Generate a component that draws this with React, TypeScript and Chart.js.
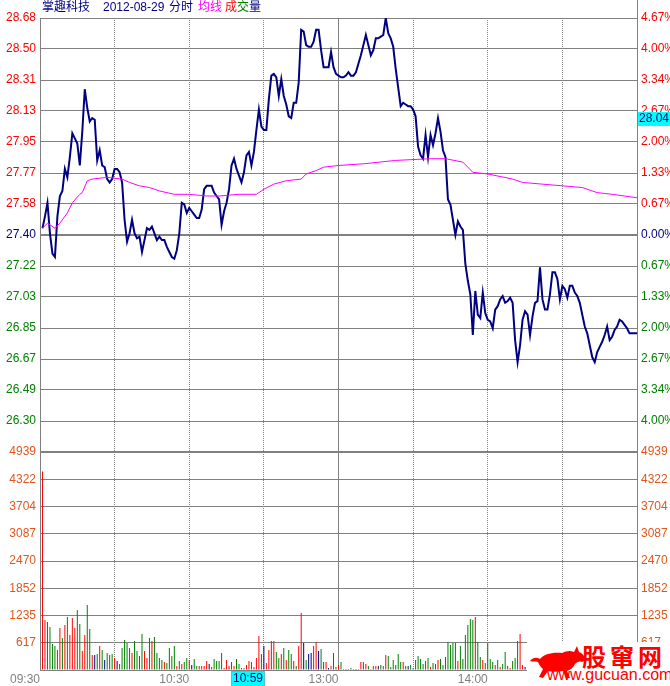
import React, { useEffect, useRef } from 'react';
import { Chart, registerables } from 'chart.js';

Chart.register(...registerables);

// ---------- data ----------
const stockName = '掌趣科技';
const tradeDate = '2012-08-29';
const titleParts = ['分时', '均线', '成', '交', '量'];

const prevClose = 27.4;
const priceMax = 28.68;
const priceMin = 26.12;
const volumeMax = 4939;

const priceLeftLabels = ['28.68', '28.50', '28.31', '28.13', '27.95', '27.77', '27.58', '27.40', '27.22', '27.03', '26.85', '26.67', '26.49', '26.30', ''];
const priceRightLabels = ['4.67%', '4.00%', '3.34%', '2.67%', '2.00%', '1.33%', '0.67%', '0.00%', '0.67%', '1.33%', '2.00%', '2.67%', '3.34%', '4.00%', ''];
const volumeLabels = ['4939', '4322', '3704', '3087', '2470', '1852', '1235', '617', ''];

const timeTicks = [0, 60, 120, 180];
const timeLabels = ['09:30', '10:30', '13:00', '14:00'];
const halfHourTicks = [30, 60, 90, 150, 180, 210];
const middayTick = 120;
const sessionMinutes = 240;

// price per minute (minute 1 .. 240)
const priceValues = [
  27.44, 27.51, 27.59, 27.41, 27.29, 27.27, 27.51, 27.63, 27.66, 27.79,
  27.74, 27.86, 28.00, 27.97, 27.94, 27.81, 28.01, 28.26, 28.15, 28.07,
  28.09, 28.08, 27.84, 27.90, 27.81, 27.80, 27.73, 27.71, 27.73, 27.79,
  27.79, 27.77, 27.71, 27.49, 27.36, 27.41, 27.49, 27.41, 27.38, 27.39,
  27.30, 27.37, 27.44, 27.43, 27.45, 27.41, 27.37, 27.39, 27.37, 27.37,
  27.33, 27.30, 27.27, 27.26, 27.31, 27.41, 27.59, 27.58, 27.53, 27.56,
  27.54, 27.52, 27.50, 27.50, 27.55, 27.67, 27.69, 27.69, 27.69, 27.65,
  27.63, 27.61, 27.46, 27.54, 27.59, 27.67, 27.81, 27.85, 27.79, 27.75,
  27.71, 27.77, 27.87, 27.89, 27.81, 27.89, 28.02, 28.14, 28.04, 28.02,
  28.02, 28.20, 28.34, 28.35, 28.33, 28.22, 28.32, 28.22, 28.17, 28.10,
  28.09, 28.18, 28.18, 28.30, 28.61, 28.60, 28.52, 28.51, 28.51, 28.54,
  28.61, 28.61, 28.49, 28.39, 28.39, 28.39, 28.48, 28.39, 28.35, 28.34,
  28.33, 28.33, 28.34, 28.36, 28.34, 28.34, 28.36, 28.41, 28.46, 28.52,
  28.58, 28.52, 28.46, 28.49, 28.56, 28.56, 28.57, 28.58, 28.68, 28.59,
  28.56, 28.51, 28.38, 28.27, 28.16, 28.18, 28.17, 28.16, 28.16, 28.14,
  28.10, 27.92, 27.87, 27.85, 27.99, 27.86, 27.99, 27.93, 28.00, 28.09,
  28.01, 27.90, 27.86, 27.61, 27.58, 27.49, 27.40, 27.48, 27.45, 27.43,
  27.23, 27.13, 27.05, 26.81, 27.07, 26.93, 26.91, 27.06, 26.94, 26.90,
  26.89, 26.85, 26.96, 26.98, 27.02, 27.04, 27.00, 27.01, 27.03, 27.00,
  26.78, 26.65, 26.75, 26.90, 26.95, 26.93, 26.81, 26.92, 27.00, 27.01,
  27.21, 27.02, 26.96, 26.96, 27.05, 27.18, 27.18, 27.14, 27.02, 27.10,
  27.08, 27.03, 27.10, 27.10, 27.06, 27.04, 27.00, 26.93, 26.86, 26.82,
  26.75, 26.68, 26.65, 26.71, 26.74, 26.77, 26.81, 26.86, 26.78, 26.80,
  26.84, 26.86, 26.90, 26.89, 26.87, 26.85, 26.82, 26.82, 26.82, 26.82,
];

// average price line, read at these minutes
const avgMinutes = [1, 3, 4, 6, 8, 11, 13, 16, 17, 19, 21, 27, 33, 36, 40, 44, 48, 54, 60, 67, 72, 80, 87, 90, 94, 99, 105, 107, 111, 114, 120, 130, 143, 157, 163, 170, 174, 180, 190, 194, 202, 210, 218, 224, 230, 240];
const avgValues = [27.44, 27.47, 27.46, 27.44, 27.47, 27.53, 27.59, 27.64, 27.65, 27.72, 27.73, 27.74, 27.73, 27.71, 27.69, 27.68, 27.66, 27.64, 27.64, 27.63, 27.63, 27.64, 27.64, 27.67, 27.70, 27.72, 27.73, 27.76, 27.78, 27.80, 27.81, 27.82, 27.84, 27.85, 27.85, 27.83, 27.77, 27.76, 27.73, 27.71, 27.70, 27.69, 27.68, 27.65, 27.64, 27.62];

// volume per minute (minute 1 .. 196; later bars hidden by the watermark)
const volumeValues = [
  4500, 1133, 1088, 974, 589, 544, 453, 951, 725, 1020,
  1200, 793, 1178, 951, 1360, 1042, 430, 793, 1473, 929,
  340, 340, 362, 544, 453, 227, 385, 340, 362, 272,
  204, 136, 498, 680, 612, 498, 385, 657, 430, 317,
  815, 430, 272, 725, 657, 747, 385, 272, 227, 181,
  158, 498, 317, 544, 91, 204, 136, 181, 272, 227,
  113, 249, 91, 91, 91, 91, 204, 136, 68, 249,
  204, 204, 385, 45, 227, 91, 181, 91, 249, 136,
  45, 45, 113, 204, 181, 68, 272, 770, 362, 544,
  158, 453, 657, 657, 408, 272, 362, 498, 227, 453,
  362, 204, 91, 544, 1291, 612, 227, 362, 385, 544,
  634, 430, 476, 181, 181, 45, 91, 385, 68, 113,
  181, 23, 23, 23, 45, 23, 23, 23, 181, 181,
  136, 91, 23, 91, 91, 91, 113, 91, 340, 317,
  68, 227, 113, 362, 181, 181, 91, 91, 113, 45,
  227, 317, 249, 136, 204, 272, 68, 159, 136, 227,
  249, 113, 295, 634, 566, 612, 612, 204, 544, 249,
  793, 1020, 1155, 1133, 1201, 634, 295, 227, 159, 612,
  249, 181, 113, 227, 68, 136, 408, 91, 45, 204,
  272, 657, 816, 113, 68, 227,
];
// r = up, g = down, b = unchanged
const volumeDirections = [
  'rrrgggrrgr', 'grrrggrrgg', 'rbgrgbgggr', 'bggggrrggr', 'grrgrggggr',
  'ggggrgrggr', 'bggrrrrbrg', 'gggrrrrrgg', 'rgrrgrrrgb', 'rrrrggrgrg',
  'grgrrbgbbr', 'rbggrbrggr', 'grbrgrbrrr', 'rggrrbgrrg', 'gggggrgbgg',
  'ggggrgrgrr', 'gggggggrgg', 'ggggrggrgg', 'ggrgrggrrg', 'ggrrbg',
].join('');

const cursorMinute = 89;
const cursorTime = '10:59';
const cursorPrice = 28.04;

// ---------- styles ----------
const GRAY = '#808080';
const RED = '#ff0000';
const GREEN = '#008000';
const NAVY = '#000080';
const MAGENTA = '#ff00ff';
const ORANGE = '#e0561c';
const CYAN = '#00ffff';
const AXIS_FONT = { family: "'Liberation Sans', Arial, sans-serif", size: 12 };
const TEXT_FONT = "'Liberation Sans', 'Noto Sans CJK SC', sans-serif";

const dirColor: Record<string, string> = { r: RED, g: GREEN, b: NAVY };
const priceTickColor = (i: number) => (i < 7 ? RED : i === 7 ? NAVY : GREEN);

const W = 670;
const H = 686;

const priceCursorPlugin = {
  id: 'priceCursor',
  afterDraw(chart: any) {
    const { ctx, chartArea } = chart;
    const y = chart.scales.y.getPixelForValue(cursorPrice);
    ctx.save();
    ctx.strokeStyle = GRAY;
    ctx.lineWidth = 1;
    ctx.beginPath();
    ctx.moveTo(Math.round(chartArea.right) + 0.5, 0);
    ctx.lineTo(Math.round(chartArea.right) + 0.5, chartArea.top);
    ctx.stroke();
    const bx = Math.round(chartArea.right) + 1;
    ctx.fillStyle = CYAN;
    ctx.fillRect(bx, Math.round(y) - 15, W - bx, 14);
    ctx.fillStyle = NAVY;
    ctx.font = "12px 'Liberation Sans', Arial, sans-serif";
    ctx.textBaseline = 'middle';
    ctx.textAlign = 'left';
    ctx.fillText(cursorPrice.toFixed(2), bx + 1, Math.round(y) - 8);
    ctx.restore();
  },
};

const timeCursorPlugin = {
  id: 'timeCursor',
  afterDraw(chart: any) {
    const { ctx, chartArea } = chart;
    const x = chart.scales.x.getPixelForValue(cursorMinute);
    const left = Math.round(x) - 30;
    const top = Math.round(chartArea.bottom) + 1;
    ctx.save();
    ctx.fillStyle = CYAN;
    ctx.fillRect(left, top, 34, H - top);
    ctx.strokeStyle = '#6fb8c0';
    ctx.lineWidth = 1;
    ctx.strokeRect(left + 0.5, top + 0.5, 33, H - top);
    ctx.fillStyle = NAVY;
    ctx.font = "12px 'Liberation Sans', Arial, sans-serif";
    ctx.textAlign = 'center';
    ctx.textBaseline = 'middle';
    ctx.fillText(cursorTime, left + 17, top + 8);
    ctx.restore();
  },
};

function xGridAxes(withLabels: boolean) {
  return {
    x: {
      type: 'linear',
      position: 'bottom',
      offset: false,
      min: 0,
      max: sessionMinutes,
      afterBuildTicks: (s: any) => {
        s.ticks = (withLabels ? timeTicks : [middayTick]).map((v) => ({ value: v }));
      },
      afterFit: (s: any) => {
        s.height = withLabels ? 16 : 0;
      },
      ticks: {
        display: withLabels,
        autoSkip: false,
        maxRotation: 0,
        align: 'end',
        padding: 2,
        color: GRAY,
        font: AXIS_FONT,
        callback: (_v: any, i: number) => timeLabels[i],
      },
      grid: {
        offset: false,
        drawTicks: false,
        lineWidth: 1,
        color: (c: any) => (c.tick && c.tick.value === middayTick ? GRAY : 'rgba(0,0,0,0)'),
      },
      border: { display: false },
    },
    x2: {
      type: 'linear',
      position: 'top',
      offset: false,
      min: 0,
      max: sessionMinutes,
      afterBuildTicks: (s: any) => {
        s.ticks = halfHourTicks.map((v) => ({ value: v }));
      },
      afterFit: (s: any) => {
        s.height = 0;
      },
      ticks: { display: false },
      grid: { offset: false, drawTicks: false, color: GRAY, lineWidth: 1 },
      border: { display: false, dash: [1, 1] },
    },
  };
}

export default function App() {
  const priceRef = useRef<HTMLCanvasElement | null>(null);
  const volRef = useRef<HTMLCanvasElement | null>(null);

  useEffect(() => {
    const step = (priceMax - priceMin) / (priceLeftLabels.length - 1);
    const priceChart = new Chart(priceRef.current as HTMLCanvasElement, {
      type: 'line',
      data: {
        datasets: [
          {
            label: '均线',
            data: avgMinutes.map((m, i) => ({ x: m, y: avgValues[i] })),
            borderColor: MAGENTA,
            borderWidth: 1,
            pointRadius: 0,
            tension: 0,
            xAxisID: 'x',
            yAxisID: 'y',
          },
          {
            label: '价格',
            data: priceValues.map((v, i) => ({ x: i + 1, y: v })),
            borderColor: NAVY,
            borderWidth: 2,
            pointRadius: 0,
            tension: 0,
            xAxisID: 'x',
            yAxisID: 'y',
          },
        ],
      },
      options: {
        animation: false,
        responsive: false,
        events: [],
        layout: { padding: { top: 18, bottom: 234, left: 0, right: 0 } },
        plugins: { legend: { display: false }, tooltip: { enabled: false } },
        scales: {
          ...(xGridAxes(false) as any),
          y: {
            type: 'linear',
            position: 'left',
            min: priceMin,
            max: priceMax,
            afterBuildTicks: (s: any) => {
              s.ticks = priceLeftLabels.map((_, i) => ({ value: priceMax - i * step }));
            },
            afterFit: (s: any) => {
              s.width = 40;
            },
            ticks: {
              autoSkip: false,
              padding: 4,
              font: AXIS_FONT,
              color: (c: any) => priceTickColor(c.index),
              callback: (_v: any, i: number) => priceLeftLabels[i],
            },
            grid: {
              drawTicks: false,
              color: GRAY,
              lineWidth: (c: any) => (c.index === 7 ? 2 : 1),
            },
            border: { color: GRAY, width: 1 },
          },
          yR: {
            type: 'linear',
            position: 'right',
            min: priceMin,
            max: priceMax,
            afterBuildTicks: (s: any) => {
              s.ticks = priceRightLabels.map((_, i) => ({ value: priceMax - i * step }));
            },
            afterFit: (s: any) => {
              s.width = 33;
            },
            ticks: {
              autoSkip: false,
              padding: 4,
              font: AXIS_FONT,
              color: (c: any) => priceTickColor(c.index),
              callback: (_v: any, i: number) => priceRightLabels[i],
            },
            grid: { drawTicks: false, drawOnChartArea: false },
            border: { color: GRAY, width: 1 },
          },
        },
      } as any,
      plugins: [priceCursorPlugin],
    });

    const vstep = volumeMax / (volumeLabels.length - 1);
    const volumeChart = new Chart(volRef.current as HTMLCanvasElement, {
      type: 'bar',
      data: {
        datasets: [
          {
            label: '成交量',
            data: volumeValues.map((v, i) => ({ x: i + 1, y: v })),
            backgroundColor: volumeValues.map((_, i) => dirColor[volumeDirections[i]] || GREEN),
            borderWidth: 0,
            barThickness: 1,
            inflateAmount: 0,
            xAxisID: 'x',
            yAxisID: 'y',
          },
        ],
      },
      options: {
        animation: false,
        responsive: false,
        events: [],
        layout: { padding: { top: 452, bottom: 0, left: 0, right: 0 } },
        plugins: { legend: { display: false }, tooltip: { enabled: false } },
        scales: {
          ...(xGridAxes(true) as any),
          y: {
            type: 'linear',
            position: 'left',
            min: 0,
            max: volumeMax,
            afterBuildTicks: (s: any) => {
              s.ticks = volumeLabels.map((_, i) => ({ value: volumeMax - i * vstep }));
            },
            afterFit: (s: any) => {
              s.width = 40;
            },
            ticks: {
              autoSkip: false,
              padding: 4,
              font: AXIS_FONT,
              color: ORANGE,
              callback: (_v: any, i: number) => volumeLabels[i],
            },
            grid: {
              drawTicks: false,
              color: GRAY,
              lineWidth: (c: any) => (c.index === 0 ? 2 : 1),
            },
            border: { color: GRAY, width: 1 },
          },
          yR: {
            type: 'linear',
            position: 'right',
            min: 0,
            max: volumeMax,
            afterBuildTicks: (s: any) => {
              s.ticks = volumeLabels.map((_, i) => ({ value: volumeMax - i * vstep }));
            },
            afterFit: (s: any) => {
              s.width = 33;
            },
            ticks: {
              autoSkip: false,
              padding: 4,
              font: AXIS_FONT,
              color: ORANGE,
              callback: (_v: any, i: number) => volumeLabels[i],
            },
            grid: { drawTicks: false, drawOnChartArea: false },
            border: { color: GRAY, width: 1 },
          },
        },
      } as any,
      plugins: [timeCursorPlugin],
    });

    return () => {
      priceChart.destroy();
      volumeChart.destroy();
    };
  }, []);

  const span = (text: string, left: number, color: string) => (
    <span
      style={{
        position: 'absolute',
        left,
        top: 0,
        color,
        fontFamily: TEXT_FONT,
        fontSize: 12,
        lineHeight: '15px',
        whiteSpace: 'pre',
      }}
    >
      {text}
    </span>
  );

  return (
    <div style={{ position: 'fixed', left: 0, top: 0, width: W, height: H, background: '#ffffff', overflow: 'hidden' }}>
      <canvas ref={volRef} width={W} height={H} style={{ position: 'absolute', left: 0, top: 0 }} />
      <canvas ref={priceRef} width={W} height={H} style={{ position: 'absolute', left: 0, top: 0 }} />
      {span(stockName, 42, NAVY)}
      {span(tradeDate, 103, NAVY)}
      {span(titleParts[0], 169, NAVY)}
      {span(titleParts[1], 198, MAGENTA)}
      {span(titleParts[2], 225, RED)}
      {span(titleParts[3], 237, GREEN)}
      {span(titleParts[4], 249, NAVY)}
      <div style={{ position: 'absolute', left: 527, top: 642, width: W - 527, height: H - 642, background: '#ffffff', overflow: 'hidden' }}>
        <svg width={58} height={34} viewBox="0 0 56 34" style={{ position: 'absolute', left: 2, top: 3 }}>
          <path
            d="M0,16 C3,12 7,12 10,14 C14,9 22,7 32,8 C36,6 40,5 44,7 L47,1 L49,7 C52,8 55,11 56,15 L52,17 C49,16 47,17 45,19 C43,23 40,25 37,26 L40,33 L36,33 L33,26 C28,27 22,27 18,26 L13,33 L9,32 L13,24 C10,22 9,19 8,17 C5,16 3,17 0,16 Z"
            fill={RED}
          />
        </svg>
        <div style={{ position: 'absolute', left: 55, top: 1, color: RED, fontFamily: "'Noto Sans CJK SC', sans-serif", fontSize: 24, fontWeight: 'bold', lineHeight: '26px', letterSpacing: 4, whiteSpace: 'nowrap' }}>
          股窜网
        </div>
        <div style={{ position: 'absolute', left: 20, top: 24, color: RED, fontFamily: "'Liberation Sans', Arial, sans-serif", fontSize: 16, lineHeight: '18px', whiteSpace: 'nowrap' }}>
          www.gucuan.com
        </div>
      </div>
    </div>
  );
}
